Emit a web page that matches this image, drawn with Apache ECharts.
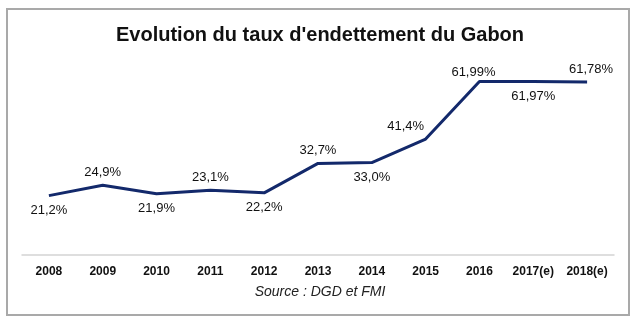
<!DOCTYPE html>
<html>
<head>
<meta charset="utf-8">
<script src="https://cdn.jsdelivr.net/npm/echarts@6/dist/echarts.min.js"></script>
<style>
  html, body { margin: 0; padding: 0; background: #ffffff; }
  #chart { width: 640px; height: 323px; }
</style>
</head>
<body>
<div id="chart"></div>
<script>
// Gabon debt ratio (% of GDP), 2008–2018, last two years estimated
const years = ['2008', '2009', '2010', '2011', '2012', '2013', '2014', '2015', '2016', '2017(e)', '2018(e)'];
const debtRatio = [21.2, 24.9, 21.9, 23.1, 22.2, 32.7, 33.0, 41.4, 61.99, 61.97, 61.78];
const labelDecimals = [1, 1, 1, 1, 1, 1, 1, 1, 2, 2, 2];
const labelSide = ['bottom', 'top', 'bottom', 'top', 'bottom', 'top', 'bottom', 'top', 'top', 'bottom', 'top'];

const FONT = '"Liberation Sans", Arial, sans-serif';

const labelOffsets = {
  7: [-20, 0],
  8: [-6, 4],
  10: [4, 0]
};

const seriesData = debtRatio.map((v, i) => ({
  value: v,
  label: {
    show: true,
    position: labelSide[i],
    distance: labelSide[i] === 'top' ? 6 : 8,
    offset: labelOffsets[i] || [0, 0]
  }
}));

const chart = echarts.init(document.getElementById('chart'), null, { renderer: 'canvas' });

chart.setOption({
  animation: false,
  backgroundColor: '#ffffff',
  title: {
    text: "Evolution du taux d'endettement du Gabon",
    left: 'center',
    top: 20,
    textStyle: { fontFamily: FONT, fontSize: 20, fontWeight: 'bold', color: '#111111' }
  },
  graphic: [
    {
      type: 'rect',
      shape: { x: 7, y: 9, width: 622, height: 306 },
      style: { fill: 'none', stroke: '#a9a9a9', lineWidth: 2 },
      silent: true,
      z: -1
    },
    {
      type: 'text',
      left: 'center',
      top: 285,
      style: {
        text: 'Source : DGD et FMI',
        font: 'italic 14px ' + FONT,
        fill: '#222222'
      }
    }
  ],
  grid: { left: 22, right: 26, top: 59, bottom: 68 },
  xAxis: {
    type: 'category',
    data: years,
    boundaryGap: true,
    axisLine: { lineStyle: { color: '#d4d4d4', width: 1.5 } },
    axisTick: { show: false },
    axisLabel: {
      fontFamily: FONT,
      fontSize: 12,
      fontWeight: 'bold',
      color: '#111111',
      margin: 11,
      interval: 0
    }
  },
  yAxis: {
    type: 'value',
    min: 0,
    max: 70,
    show: false,
    splitLine: { show: false }
  },
  series: [{
    type: 'line',
    data: seriesData,
    symbol: 'circle',
    symbolSize: 1,
    showSymbol: true,
    itemStyle: { color: 'rgba(0,0,0,0)' },
    lineStyle: { color: '#13296b', width: 3 },
    label: {
      show: true,
      fontFamily: FONT,
      fontSize: 13,
      color: '#111111',
      formatter: p => p.value.toFixed(labelDecimals[p.dataIndex]).replace('.', ',') + '%'
    }
  }]
});
</script>
</body>
</html>
